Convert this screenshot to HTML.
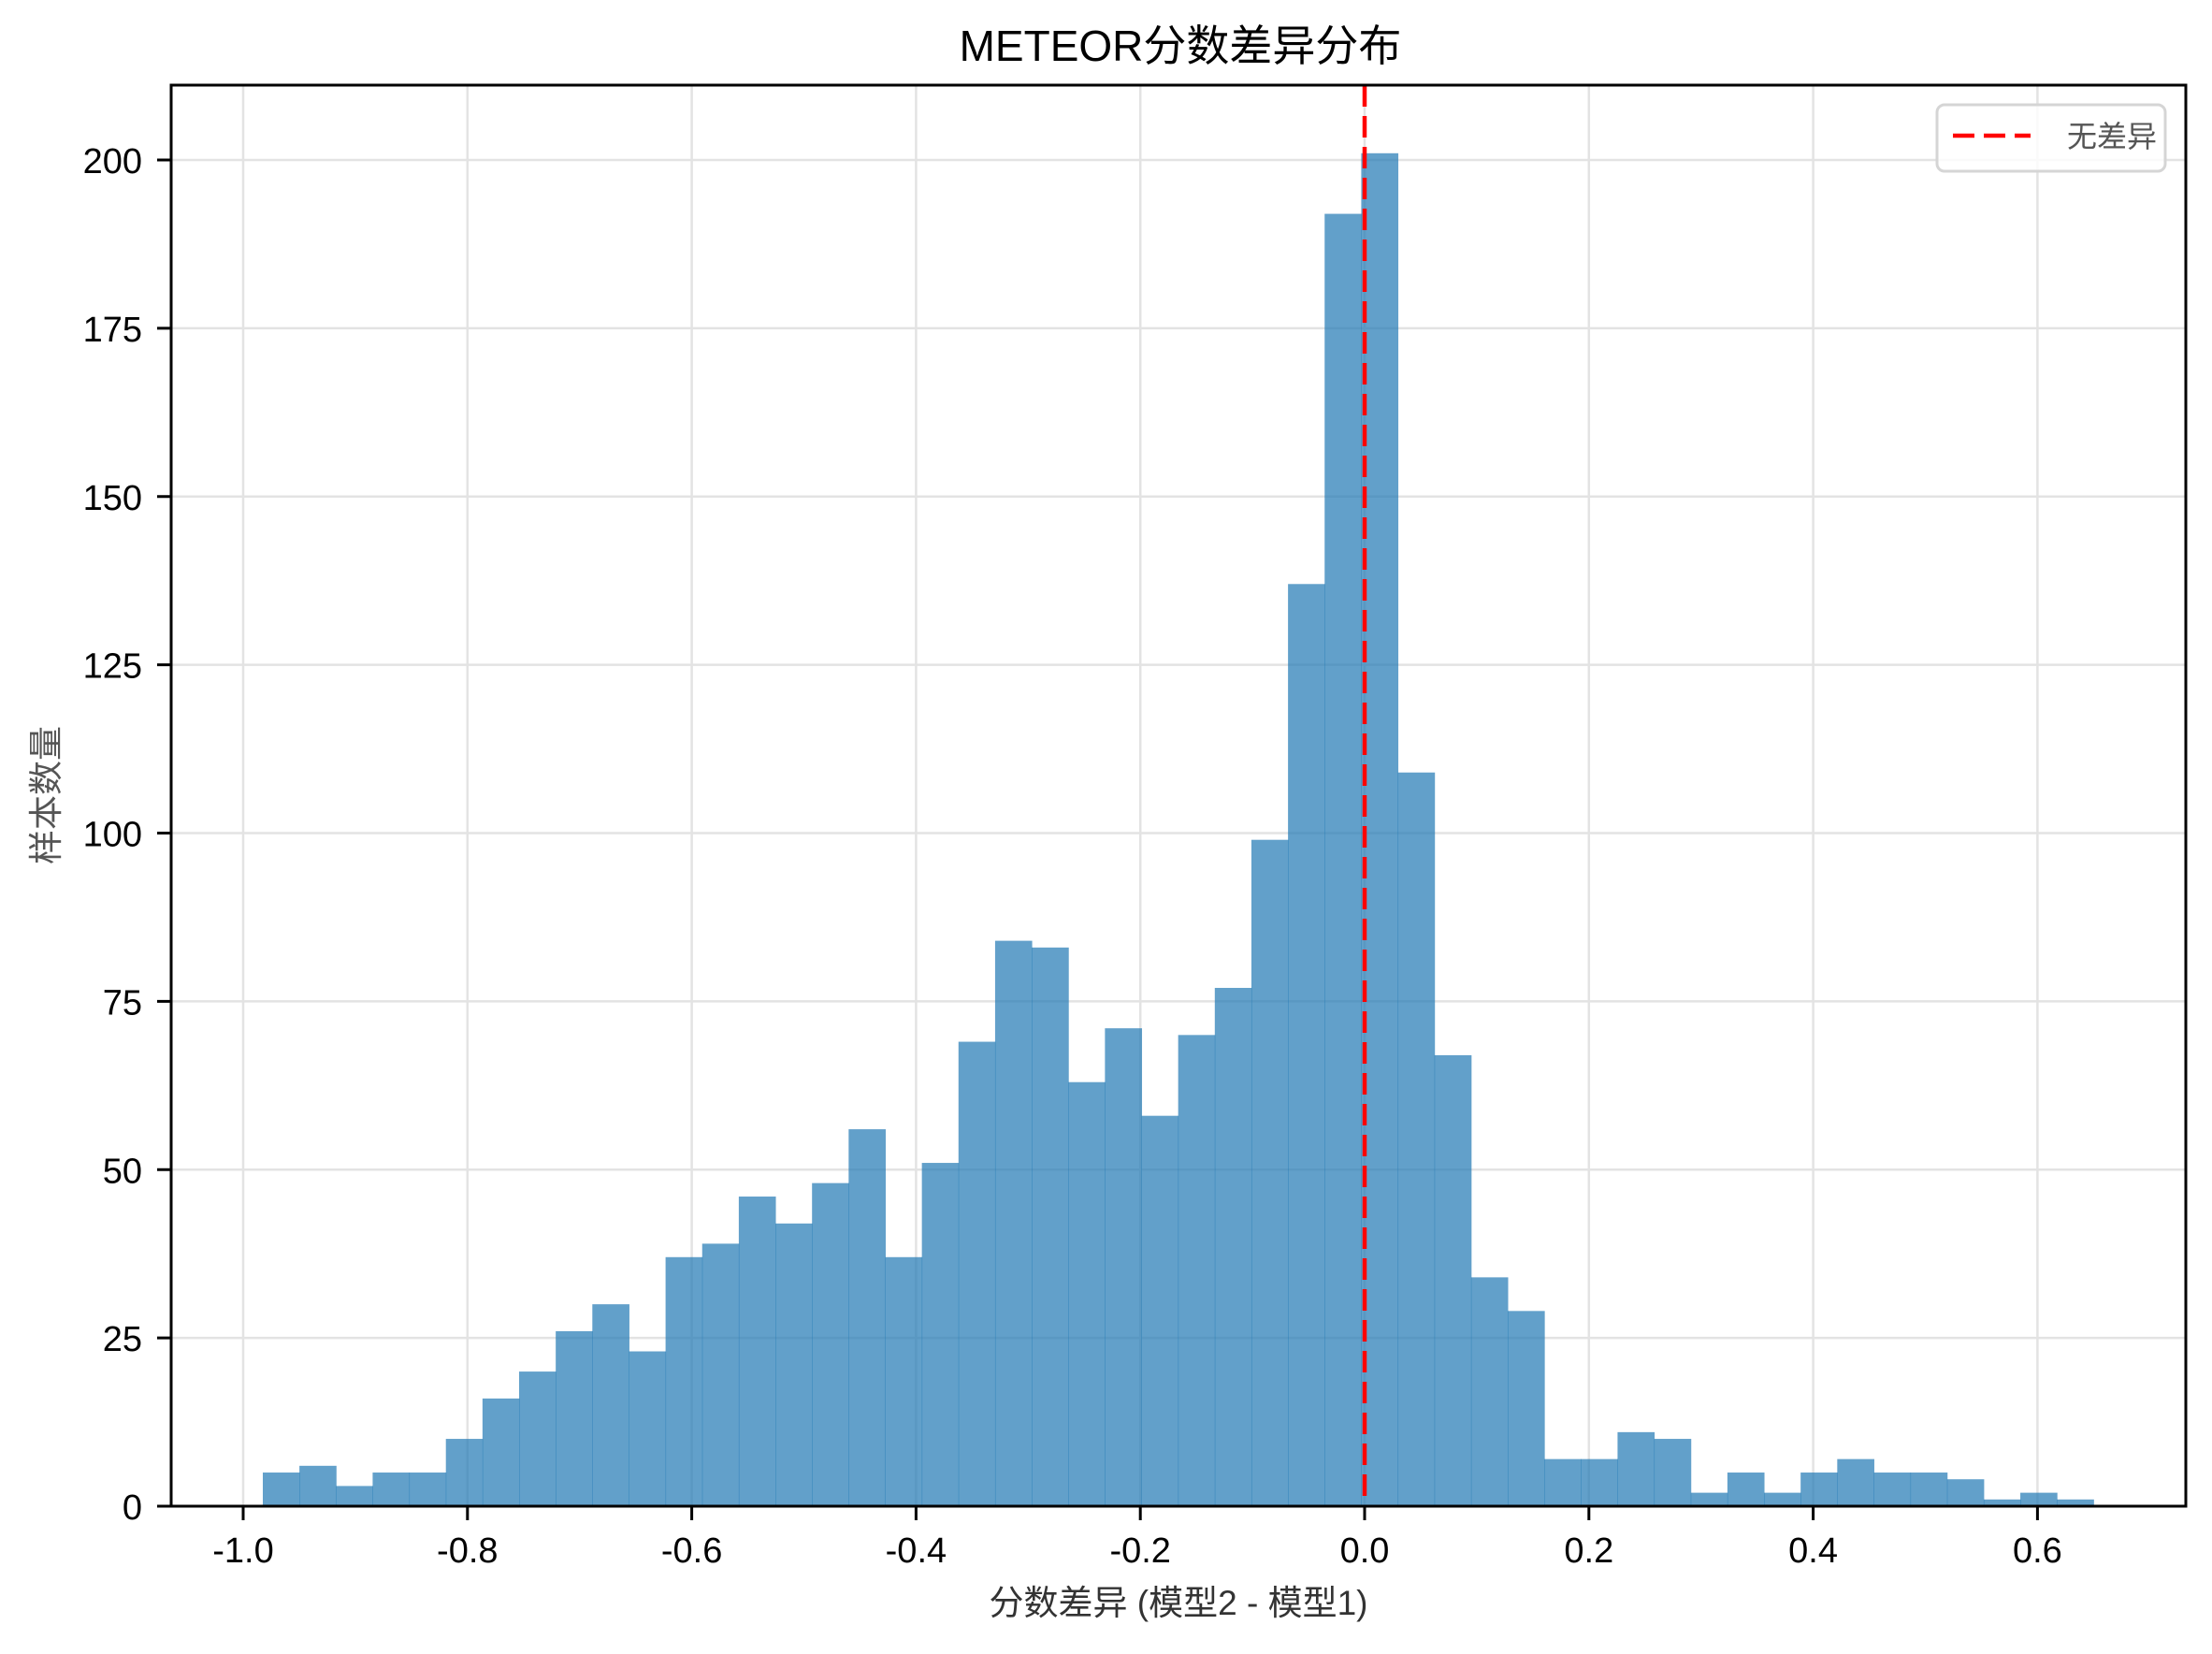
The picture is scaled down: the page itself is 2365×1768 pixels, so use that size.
<!DOCTYPE html>
<html><head><meta charset="utf-8"><style>
html,body{margin:0;padding:0;background:#fff;}
svg text{font-family:"Liberation Sans","Noto Sans CJK SC",sans-serif;}
</style></head><body>
<svg id="chart" width="2365" height="1763" viewBox="0 0 2365 1763" xmlns="http://www.w3.org/2000/svg">
<rect width="2365" height="1763" fill="#fff"/>
<g id="grid"></g>
<g id="bars"></g>
<g id="axes"></g>
<text x="1262" y="65" font-size="46" text-anchor="middle" fill="#000">METEOR分数差异分布</text>
<text x="1260" y="1726" font-size="37" text-anchor="middle" fill="#333">分数差异 (模型2 - 模型1)</text>
<text transform="translate(62,850) rotate(-90)" font-size="37" text-anchor="middle" fill="#555">样本数量</text>
<g>
<rect x="2071" y="112" width="244" height="71" rx="8" fill="#fff" fill-opacity="0.8" stroke="#d5d5d5" stroke-width="3"/>
<line x1="2088" y1="145" x2="2171" y2="145" stroke="#f00" stroke-width="4.5" stroke-dasharray="23,10"/>
<text x="2210" y="157" font-size="32" fill="#555">无差异</text>
</g>
</svg>
<script>
const counts = [5,6,3,5,5,10,16,20,26,30,23,37,39,46,42,48,56,37,51,69,84,83,63,71,58,70,77,99,137,192,201,109,67,34,29,7,7,11,10,2,5,2,5,7,5,5,4,1,2,1];
const binStart = -0.9825;
const binEnd = 0.650;
const xTicks = [-1.0,-0.8,-0.6,-0.4,-0.2,0.0,0.2,0.4,0.6];
const xTickLabels = ["-1.0","-0.8","-0.6","-0.4","-0.2","0.0","0.2","0.4","0.6"];
const yTicks = [0,25,50,75,100,125,150,175,200];
const refLine = [0];

const L=183,R=2337,T=91,B=1610;
const xs = v => 1459 + v*1199;
const ys = v => B - v*7.195;
const NS="http://www.w3.org/2000/svg";
function mk(tag, attrs, parent){const e=document.createElementNS(NS,tag);for(const k in attrs)e.setAttribute(k,attrs[k]);parent.appendChild(e);return e;}
const grid=document.getElementById('grid'), bars=document.getElementById('bars'), axes=document.getElementById('axes');

xTicks.forEach((t,i)=>{
  const g=mk('line',{x1:xs(t),x2:xs(t),y1:T,y2:B,stroke:'#e3e3e3','stroke-width':2.5},grid);
  
  
});
yTicks.forEach(t=>{
  const g=mk('line',{x1:L,x2:R,y1:ys(t),y2:ys(t),stroke:'#e3e3e3','stroke-width':2.5},grid);
  
  
});

const w=(binEnd-binStart)/counts.length;
counts.forEach((c,i)=>{
  const x0=xs(binStart+i*w), x1=xs(binStart+(i+1)*w);
  const r=mk('rect',{x:x0,y:ys(c),width:x1-x0+0.5,height:B-ys(c),fill:'#1f77b4','fill-opacity':0.7},bars);
  
  
});

refLine.forEach(v=>{
  const l=mk('line',{x1:xs(v),x2:xs(v),y1:T,y2:B,stroke:'#f00','stroke-width':4.5,'stroke-dasharray':'23,10'},axes);
  
  
});

const frame=mk('rect',{x:L,y:T,width:R-L,height:B-T,fill:'none',stroke:'#000','stroke-width':3},axes);



xTicks.forEach((t,i)=>{
  const tk=mk('line',{x1:xs(t),x2:xs(t),y1:B,y2:B+15,stroke:'#000','stroke-width':3},axes);
  
  
  const tx=mk('text',{x:xs(t),y:1670,'font-size':38,'text-anchor':'middle',fill:'#000'},axes);
  tx.textContent=xTickLabels[i];
  
  
});
yTicks.forEach(t=>{
  const tk=mk('line',{x1:L-15,x2:L,y1:ys(t),y2:ys(t),stroke:'#000','stroke-width':3},axes);
  
  
  const tx=mk('text',{x:152,y:ys(t)+14,'font-size':38,'text-anchor':'end',fill:'#000'},axes);
  tx.textContent=String(t);
  
  
});
</script>
</body></html>
